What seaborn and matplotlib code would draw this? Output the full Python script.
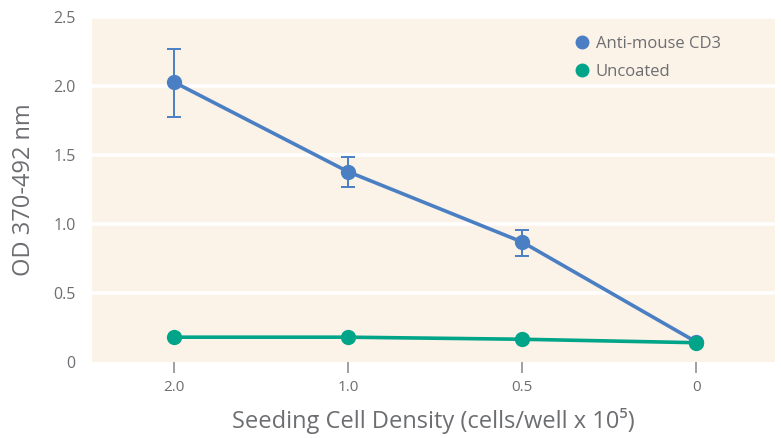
import numpy as np
import pandas as pd
import matplotlib
matplotlib.use("Agg")
import matplotlib.pyplot as plt
import seaborn as sns

categories = ["2.0", "1.0", "0.5", "0"]
anti_cd3 = [2.03, 1.38, 0.87, 0.145]
anti_err_low = [0.25, 0.11, 0.10, 0.0]
anti_err_high = [0.24, 0.11, 0.09, 0.0]
uncoated = [0.18, 0.18, 0.165, 0.14]
series_names = ["Anti-mouse CD3", "Uncoated"]
yticks = [0, 0.5, 1.0, 1.5, 2.0, 2.5]
ytick_labels = ["0", "0.5", "1.0", "1.5", "2.0", "2.5"]

blue = "#4a7fc3"
teal = "#00a589"
grey = "#6d6e71"
bg = "#fbf2e8"
tick_grey = "#a0a0a0"

sns.set_theme(style="white")
plt.rcParams["font.family"] = ["Open Sans", "DejaVu Sans"]

pos = np.arange(len(categories))
df = pd.DataFrame({
    "pos": np.concatenate([pos, pos]),
    "od": anti_cd3 + uncoated,
    "series": [series_names[0]] * len(categories) + [series_names[1]] * len(categories),
})

fig = plt.figure(figsize=(7.81, 4.38), dpi=100)
ax = fig.add_axes([0.118, 0.1735, 0.874, 0.787])
ax.set_facecolor(bg)

for y in yticks[1:]:
    ax.axhline(y, color="white", lw=2.6, zorder=1)

ax.errorbar(pos, anti_cd3, yerr=[anti_err_low, anti_err_high], fmt="none",
            ecolor=blue, elinewidth=1.4, capsize=5, capthick=1.4, zorder=3)

sns.lineplot(data=df, x="pos", y="od", hue="series", hue_order=series_names,
             palette=[blue, teal], marker="o", markersize=11, markeredgewidth=0,
             linewidth=2.6, ax=ax, zorder=4, legend=False)

for name, col in zip(series_names, [blue, teal]):
    ax.plot([], [], "o", color=col, markersize=9, label=name)
leg = ax.legend(loc="upper right", frameon=False, fontsize=12, handletextpad=0.3,
                borderaxespad=0.6, bbox_to_anchor=(0.945, 0.995), labelspacing=0.75,
                handlelength=1.0)
for t in leg.get_texts():
    t.set_color(grey)

ax.set_xlim(-0.47, 3.45)
ax.set_ylim(0, 2.5)
ax.set_xticks(pos)
ax.set_xticklabels(categories)
ax.set_yticks(yticks)
ax.set_yticklabels(ytick_labels)
ax.tick_params(axis="y", left=False, length=0, labelsize=11.5, labelcolor=grey, pad=12)
ax.tick_params(axis="x", which="both", bottom=True, top=False, length=8, width=1.4,
               color=tick_grey, direction="out", labelsize=11, labelcolor=grey, pad=5)
for s in ax.spines.values():
    s.set_visible(False)

ax.set_xlabel("Seeding Cell Density (cells/well x 10\u2075)", fontsize=17, color=grey, labelpad=9)
ax.set_ylabel("OD 370-492 nm", fontsize=17, color=grey, labelpad=12)

fig.savefig("out.png", dpi=100, facecolor="white")
